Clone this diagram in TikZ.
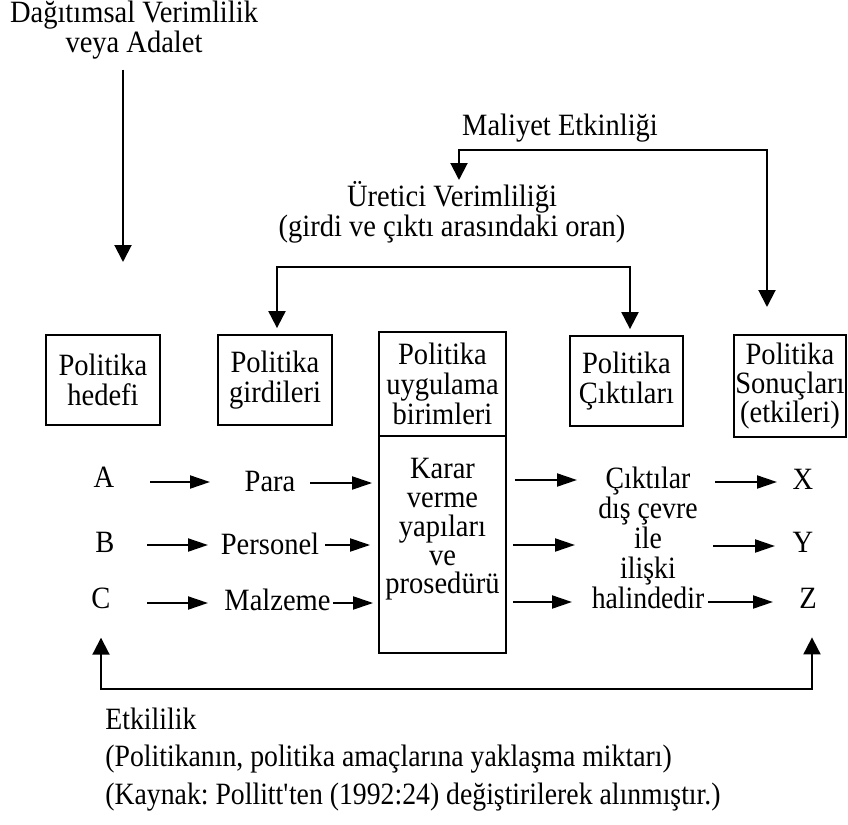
\documentclass[tikz,border=0pt]{standalone}
\usepackage{fontspec}
\setmainfont{Liberation Serif}[FakeStretch=0.92]
\newfontfamily\condserif{Liberation Serif}[FakeStretch=0.895]
\usetikzlibrary{arrows.meta}
\frenchspacing
\begin{document}
\begin{tikzpicture}[x=0.5pt,y=-0.5pt,
  every node/.style={font=\fontsize{15.5}{15}\selectfont, inner sep=0pt, text=black},
  lbl/.style={align=center},
  cond/.style={font=\condserif\fontsize{15.5}{15}\selectfont},
  pbox/.style={draw, line width=0.9pt, align=center, minimum width=57pt, minimum height=45pt},
  harr/.style={line width=1pt, -{Triangle[length=10pt,width=6.5pt]}},
  varr/.style={line width=1pt, -{Triangle[length=8.5pt,width=8.5pt]}},
  vboth/.style={line width=1pt, {Triangle[length=8.5pt,width=8.5pt]}-{Triangle[length=8.5pt,width=8.5pt]}},
]
\useasboundingbox (0,0) rectangle (848,825);

% top labels
\node[lbl] (T) at (134,30) {Dağıtımsal Verimlilik\\veya Adalet};
\node[anchor=base] (M) at (560,135) {Maliyet Etkinliği};
\node[lbl] (U) at (452,212) {Üretici Verimliliği\\(girdi ve çıktı arasındaki oran)};

% boxes
\node[pbox] (H) at (103,380) {Politika\\hedefi};
\node[pbox] (G) at (275,380) {Politika\\girdileri};
\node[pbox, minimum width=63.5pt, minimum height=52pt] (UT) at (442.5,384) {Politika\\uygulama\\birimleri};
\node[draw, line width=0.9pt, minimum width=63.5pt, minimum height=108.5pt] (UB) at (442.5,544.5) {};
\node[lbl, font=\fontsize{15.5}{14.4}\selectfont] (KV) at (442.5,529.5) {Karar\\verme\\yapıları\\ve\\prosedürü};
\node[pbox, minimum width=56.5pt] (K) at (626.5,381) {Politika\\Çıktıları};
\node[pbox, minimum width=56pt, minimum height=51pt, font=\fontsize{15.5}{14.5}\selectfont] (S) at (790,386) {Politika\\Sonuçları\\(etkileri)};

% rows
\node[anchor=base] (A) at (104,487) {A};
\node[anchor=base] (B) at (105,552) {B};
\node[anchor=base] (C) at (101,608) {C};
\node[anchor=base] (Pa) at (270,491) {Para};
\node[anchor=base] (Pe) at (270,554) {Personel};
\node[anchor=base] (Ma) at (277.5,610) {Malzeme};
\node[lbl, cond] (CK) at (648,538) {Çıktılar\\dış çevre\\ile\\ilişki\\halindedir};
\node[anchor=base] (X) at (803,489) {X};
\node[anchor=base] (Y) at (803,552) {Y};
\node[anchor=base] (Z) at (808,608) {Z};

% bottom texts
\node[anchor=base west, cond] (E) at (105,729) {Etkililik};
\node[anchor=base west, cond] (E2) at (105,766) {(Politikanın, politika amaçlarına yaklaşma miktarı)};
\node[anchor=base west, cond] (Src) at (105,804) {(Kaynak: Pollitt\textquotesingle ten (1992:24) değiştirilerek alınmıştır.)};

% Dağıtımsal arrow
\coordinate (d1) at (123,262);
\draw[varr, shorten <=5pt] (T.south -| d1) -- (d1);

% Maliyet loop
\coordinate (m1) at (459,150);
\coordinate (m2) at (767,150);
\coordinate (m1e) at (459,180);
\coordinate (m2e) at (767,307);
\draw[vboth] (m1e) -- (m1) -- (m2) -- (m2e);

% Uretici loop
\coordinate (u1) at (277,267);
\coordinate (u2) at (630,267);
\draw[vboth, shorten <=3pt, shorten >=3pt] (u1 |- G.north) -- (u1) -- (u2) -- (u2 |- K.north);

% row arrows
\foreach \n/\xa/\ya/\xb/\yb in {1/150/482/210/482, 2/147/545/208/545, 3/147/603/208/603,
                                 4/715/482/777/482, 5/713/546/775/546, 6/708/602/773/602,
                                 7/515/480/577/480, 8/512/545/575/545, 9/512/602/572/602} {
  \coordinate (s\n) at (\xa,\yb);
  \coordinate (e\n) at (\xb,\yb);
}
\draw[harr] (s1) -- (e1);
\draw[harr] (s2) -- (e2);
\draw[harr] (s3) -- (e3);
\draw[harr] (s4) -- (e4);
\draw[harr] (s5) -- (e5);
\draw[harr] (s6) -- (e6);
\draw[harr, shorten <=4pt] (s7 -| UB.east) -- (e7);
\draw[harr, shorten <=3pt] (s8 -| UB.east) -- (e8);
\draw[harr, shorten <=3pt] (s9 -| UB.east) -- (e9);

% arrows into the box
\coordinate (p1) at (310,483);
\coordinate (p2) at (325,545);
\coordinate (p3) at (333,603);
\draw[harr, shorten >=3pt] (p1) -- (p1 -| UB.west);
\draw[harr, shorten >=4pt] (p2) -- (p2 -| UB.west);
\draw[harr, shorten >=2.5pt] (p3) -- (p3 -| UB.west);

% bottom feedback loop
\coordinate (lb) at (450,689);
\coordinate (lr) at (812,689);
\draw[vboth] ([yshift=-14.5pt]C.south) -- (C.south |- lb) -- (lr) -- ([yshift=-14.5pt]lr |- Z.south);
\end{tikzpicture}
\end{document}
